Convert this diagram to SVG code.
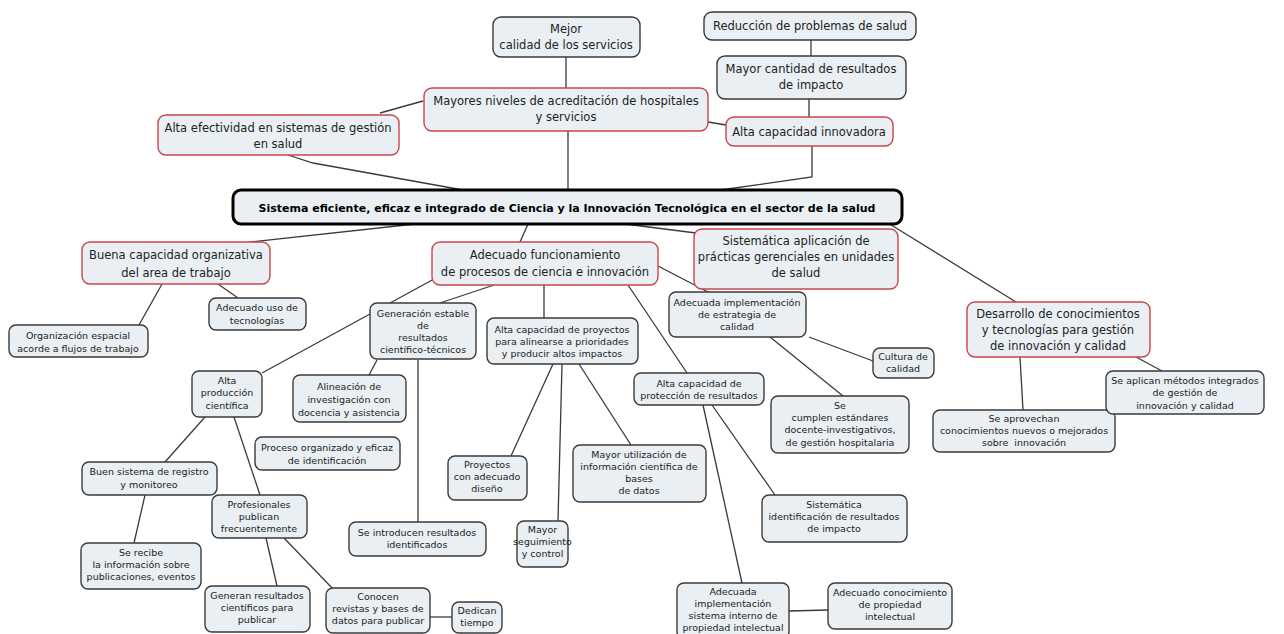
<svg xmlns="http://www.w3.org/2000/svg" width="1284" height="634" viewBox="0 0 1284 634">
<style>
.n rect{fill:#e9eff2;stroke:#3a3a3a;stroke-width:1.4}
.r rect{stroke:#c9474b}
.m rect{stroke:#000;stroke-width:3}
text{font-family:"DejaVu Sans","Verdana",sans-serif;fill:#222;text-anchor:middle}
.b text{font-size:11.5px}
.s text{font-size:9.5px}
.m text{font-size:11px;font-weight:bold;fill:#000}
#conn line,#conn polyline{stroke:#3a3a3a;stroke-width:1.3;fill:none}
</style>
<rect width="1284" height="634" fill="#fff"/>
<g id="conn">
<line x1="566" y1="57" x2="566" y2="88"/>
<line x1="423" y1="101" x2="380" y2="113"/>
<line x1="568" y1="131" x2="568" y2="190"/>
<polyline points="288,155 313,163 463,190"/>
<line x1="811" y1="40" x2="811" y2="56"/>
<line x1="809" y1="99" x2="809" y2="117"/>
<line x1="708" y1="122" x2="726" y2="125"/>
<polyline points="812,146 812,177 720,190"/>
<line x1="415" y1="224" x2="250" y2="242"/>
<line x1="528" y1="224" x2="520" y2="242"/>
<line x1="625" y1="224" x2="696" y2="233"/>
<line x1="888" y1="223" x2="1016" y2="302"/>
<line x1="162" y1="284" x2="139" y2="325"/>
<line x1="218" y1="284" x2="238" y2="298"/>
<line x1="262" y1="373" x2="434" y2="279"/>
<line x1="440" y1="303" x2="494" y2="285"/>
<line x1="544" y1="285" x2="544" y2="318"/>
<line x1="628" y1="285" x2="687" y2="373"/>
<line x1="658" y1="266" x2="708" y2="292"/>
<line x1="377" y1="360" x2="369" y2="375"/>
<line x1="418" y1="360" x2="418" y2="522"/>
<line x1="205" y1="417" x2="165" y2="462"/>
<line x1="234" y1="417" x2="260" y2="495"/>
<line x1="145" y1="495" x2="134" y2="543"/>
<line x1="266" y1="538" x2="277" y2="586"/>
<line x1="284" y1="538" x2="333" y2="589"/>
<line x1="430" y1="617" x2="452" y2="617"/>
<line x1="553" y1="364" x2="511" y2="456"/>
<line x1="562" y1="364" x2="558" y2="521"/>
<line x1="579" y1="364" x2="631" y2="445"/>
<line x1="712" y1="405" x2="775" y2="495"/>
<line x1="703" y1="405" x2="742" y2="583"/>
<line x1="789" y1="611" x2="828" y2="610"/>
<line x1="809" y1="337" x2="873" y2="361"/>
<line x1="770" y1="337" x2="843" y2="396"/>
<line x1="1020" y1="357" x2="1023" y2="410"/>
<line x1="1136" y1="357" x2="1162" y2="371"/>
</g>
<g id="n-mejor" class="n b"><rect x="493" y="17" width="147" height="40" rx="8"/><text x="566" y="33">Mejor</text><text x="566" y="49">calidad de los servicios</text></g>
<g id="n-reduccion" class="n b"><rect x="704" y="12" width="212" height="28" rx="8"/><text x="810" y="30">Reducción de problemas de salud</text></g>
<g id="n-cantidad" class="n b"><rect x="717" y="56" width="189" height="43" rx="8"/><text x="811" y="73">Mayor cantidad de resultados</text><text x="811" y="89">de impacto</text></g>
<g id="n-innovadora" class="n b r"><rect x="726" y="117" width="167" height="29" rx="8"/><text x="809" y="136">Alta capacidad innovadora</text></g>
<g id="n-acreditacion" class="n b r"><rect x="424" y="88" width="284" height="43" rx="8"/><text x="566" y="105">Mayores niveles de acreditación de hospitales</text><text x="566" y="121">y servicios</text></g>
<g id="n-efectividad" class="n b r"><rect x="158" y="115" width="241" height="40" rx="8"/><text x="278" y="132">Alta efectividad en sistemas de gestión</text><text x="278" y="148">en salud</text></g>
<g id="n-central" class="n m"><rect x="233" y="190" width="669" height="34" rx="8"/><text x="567" y="212">Sistema eficiente, eficaz e integrado de Ciencia y la Innovación Tecnológica en el sector de la salud</text></g>
<g id="n-buena" class="n b r"><rect x="82" y="242" width="188" height="42" rx="8"/><text x="176" y="259">Buena capacidad organizativa</text><text x="176" y="277">del area de trabajo</text></g>
<g id="n-funcionamiento" class="n b r"><rect x="432" y="242" width="226" height="43" rx="8"/><text x="545" y="259">Adecuado funcionamiento</text><text x="545" y="276">de procesos de ciencia e innovación</text></g>
<g id="n-sistematica" class="n b r"><rect x="694" y="229" width="204" height="60" rx="8"/><text x="796" y="245">Sistemática aplicación de</text><text x="796" y="261">prácticas gerenciales en unidades</text><text x="796" y="277">de salud</text></g>
<g id="n-desarrollo" class="n b r"><rect x="967" y="302" width="183" height="55" rx="8"/><text x="1058" y="318">Desarrollo de conocimientos</text><text x="1058" y="334">y tecnologías para gestión</text><text x="1058" y="350">de innovación y calidad</text></g>
<g id="n-organizacion" class="n s"><rect x="9" y="325" width="139" height="32" rx="7"/><text x="78" y="339">Organización espacial</text><text x="78" y="352">acorde a flujos de trabajo</text></g>
<g id="n-uso" class="n s"><rect x="209" y="298" width="97" height="32" rx="7"/><text x="257" y="311">Adecuado uso de</text><text x="257" y="324">tecnologías</text></g>
<g id="n-generacion" class="n s"><rect x="370" y="303" width="106" height="56" rx="7"/><text x="423" y="317">Generación estable</text><text x="423" y="329">de</text><text x="423" y="341">resultados</text><text x="423" y="353">científico-técnicos</text></g>
<g id="n-produccion" class="n s"><rect x="192" y="371" width="70" height="46" rx="7"/><text x="227" y="384">Alta</text><text x="227" y="396">producción</text><text x="227" y="409">científica</text></g>
<g id="n-alineacion" class="n s"><rect x="293" y="375" width="113" height="47" rx="7"/><text x="349" y="390">Alineación de</text><text x="349" y="403">investigación con</text><text x="349" y="416">docencia y asistencia</text></g>
<g id="n-proceso" class="n s"><rect x="255" y="437" width="145" height="33" rx="7"/><text x="327" y="451">Proceso organizado y eficaz</text><text x="327" y="464">de identificación</text></g>
<g id="n-proyectos" class="n s"><rect x="487" y="318" width="151" height="46" rx="7"/><text x="562" y="333">Alta capacidad de proyectos</text><text x="562" y="345">para alinearse a prioridades</text><text x="562" y="357">y producir altos impactos</text></g>
<g id="n-estrategia" class="n s"><rect x="669" y="292" width="137" height="45" rx="7"/><text x="737" y="306">Adecuada implementación</text><text x="737" y="318">de estrategia de</text><text x="737" y="330">calidad</text></g>
<g id="n-cultura" class="n s"><rect x="873" y="348" width="61" height="30" rx="7"/><text x="903" y="360">Cultura de</text><text x="903" y="372">calidad</text></g>
<g id="n-proteccion" class="n s"><rect x="634" y="373" width="130" height="32" rx="7"/><text x="699" y="387">Alta capacidad de</text><text x="699" y="399">protección de resultados</text></g>
<g id="n-estandares" class="n s"><rect x="771" y="396" width="138" height="57" rx="7"/><text x="840" y="409">Se</text><text x="840" y="421">cumplen estándares</text><text x="840" y="433">docente-investigativos,</text><text x="840" y="446">de gestión hospitalaria</text></g>
<g id="n-aprovechan" class="n s"><rect x="933" y="410" width="182" height="42" rx="7"/><text x="1024" y="422">Se aprovechan</text><text x="1024" y="434">conocimientos nuevos o mejorados</text><text x="1024" y="446" style="white-space:pre">sobre  innovación</text></g>
<g id="n-aplican" class="n s"><rect x="1106" y="371" width="158" height="43" rx="7"/><text x="1185" y="384">Se aplican métodos integrados</text><text x="1185" y="396">de gestión de</text><text x="1185" y="409">innovación y calidad</text></g>
<g id="n-registro" class="n s"><rect x="82" y="462" width="135" height="33" rx="7"/><text x="149" y="475">Buen sistema de registro</text><text x="149" y="488">y monitoreo</text></g>
<g id="n-profesionales" class="n s"><rect x="212" y="495" width="95" height="43" rx="7"/><text x="259" y="508">Profesionales</text><text x="259" y="520">publican</text><text x="259" y="532">frecuentemente</text></g>
<g id="n-recibe" class="n s"><rect x="81" y="543" width="120" height="46" rx="7"/><text x="141" y="556">Se recibe</text><text x="141" y="568">la información sobre</text><text x="141" y="580">publicaciones, eventos</text></g>
<g id="n-generan" class="n s"><rect x="205" y="586" width="105" height="46" rx="7"/><text x="257" y="599">Generan resultados</text><text x="257" y="611">científicos para</text><text x="257" y="623">publicar</text></g>
<g id="n-conocen" class="n s"><rect x="326" y="588" width="104" height="45" rx="7"/><text x="378" y="600">Conocen</text><text x="378" y="612">revistas y bases de</text><text x="378" y="624">datos para publicar</text></g>
<g id="n-dedican" class="n s"><rect x="452" y="602" width="50" height="31" rx="7"/><text x="477" y="614">Dedican</text><text x="477" y="626">tiempo</text></g>
<g id="n-introducen" class="n s"><rect x="349" y="522" width="137" height="34" rx="7"/><text x="417" y="536">Se introducen resultados</text><text x="417" y="548">identificados</text></g>
<g id="n-diseno" class="n s"><rect x="448" y="456" width="79" height="44" rx="7"/><text x="487" y="468">Proyectos</text><text x="487" y="480">con adecuado</text><text x="487" y="492">diseño</text></g>
<g id="n-seguimiento" class="n s"><rect x="517" y="521" width="51" height="46" rx="7"/><text x="542.5" y="533" font-size="9">Mayor</text><text x="542.5" y="545" font-size="9">seguimiento</text><text x="542.5" y="557" font-size="9">y control</text></g>
<g id="n-utilizacion" class="n s"><rect x="573" y="445" width="133" height="57" rx="7"/><text x="639" y="458">Mayor utilización de</text><text x="639" y="470">información científica de</text><text x="639" y="482">bases</text><text x="639" y="494">de datos</text></g>
<g id="n-identificacion" class="n s"><rect x="762" y="495" width="145" height="47" rx="7"/><text x="834" y="508">Sistemática</text><text x="834" y="520">identificación de resultados</text><text x="834" y="532">de impacto</text></g>
<g id="n-sistema-interno" class="n s"><rect x="677" y="583" width="112" height="56" rx="7"/><text x="733" y="595">Adecuada</text><text x="733" y="607">implementación</text><text x="733" y="619">sistema interno de</text><text x="733" y="631">propiedad intelectual</text></g>
<g id="n-conocimiento" class="n s"><rect x="828" y="583" width="124" height="46" rx="7"/><text x="890" y="596">Adecuado conocimiento</text><text x="890" y="608">de propiedad</text><text x="890" y="620">intelectual</text></g>
</svg>
